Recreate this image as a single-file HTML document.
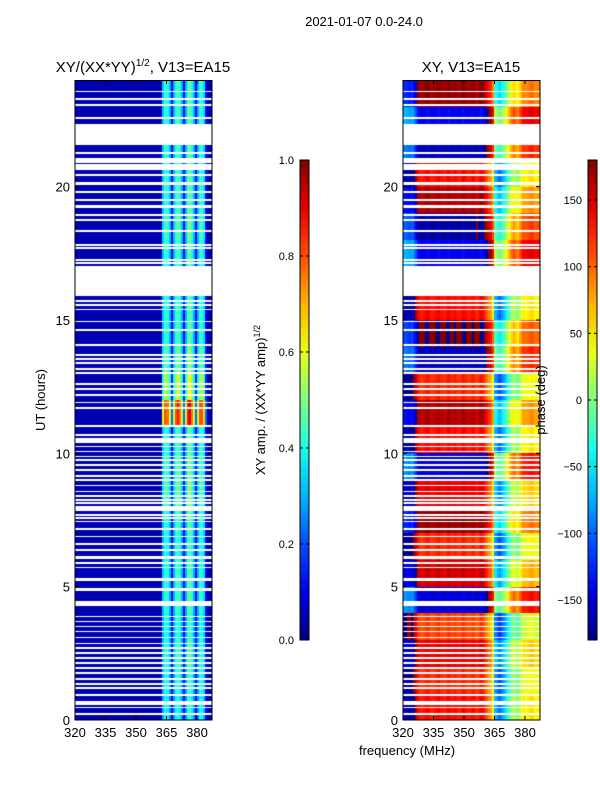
<!DOCTYPE html>
<html><head><meta charset="utf-8"><style>
body{margin:0;background:#fff;}
#wrap{position:relative;width:600px;height:800px;font-family:"Liberation Sans",sans-serif;}
canvas{position:absolute;}
svg{position:absolute;left:0;top:0;}
text{font-family:"Liberation Sans",sans-serif;fill:#000;}
</style></head><body>
<div id="wrap">
<canvas id="c1" width="137" height="640" style="left:75px;top:80px"></canvas>
<canvas id="c2" width="137" height="640" style="left:403px;top:80px"></canvas>
<svg id="s" width="600" height="800"></svg>
</div>
<script>
// ---- data ----
const freqStart = 320;
const ampColProfile = [0.05,0.05,0.05,0.05,0.05,0.05,0.05,0.05,0.05,0.05,0.05,0.05,0.05,0.05,0.05,0.05,0.05,0.05,0.05,0.05,0.05,0.05,0.05,0.05,0.05,0.05,0.05,0.05,0.05,0.05,0.05,0.05,0.05,0.05,0.05,0.05,0.05,0.05,0.05,0.05,0.05,0.05,0.05,
 0.32,0.42,0.40,0.30,0.12,0.30,0.42,0.45,0.40,0.30,0.12,0.30,0.45,0.48,0.40,0.30,0.12,0.30,0.42,0.42,0.35,0.12,0.06,0.05,0.05];
const ampHourGain = [0.9,0.95,1.0,0.95,1.0,1.0,0.95,1.0,1.1,1.05,1.0,1.9,1.3,1.1,1.0,1.0,1.0,1.0,1.05,1.0,1.0,1.0,1.0,1.0];
const phaseColProfile = [-150,-150,-155,-160,-150,-165,175,150,140,135,140,145,150,140,135,140,145,150,140,140,135,145,150,140,140,145,140,135,140,150,145,140,135,140,145,140,130,140,150,145,
 130,115,100,90,60,-60,-80,-90,-70,-60,-40,-20,0,20,30,20,10,30,50,60,55,60,65,70,60,55,60];
const phaseHourOffset = [-10,-20,0,-30,70,10,-20,30,0,70,-10,20,-20,60,40,-10,0,80,50,20,-10,60,80,30];
const flagged = [[0.19,0.26],[0.45,0.49],[0.56,0.69],[0.92,0.96],[1.18,1.22],[1.33,1.37],[1.5,1.58],[1.74,1.78],[1.93,1.97],[2.12,2.16],[2.3,2.34],[2.49,2.53],[2.68,2.72],[2.85,2.89],[3.07,3.11],[3.29,3.33],[3.48,3.52],[3.67,3.71],[3.85,3.89],[4.29,4.46],[4.84,4.96],[5.21,5.32],[5.69,5.73],[5.87,5.91],[6.04,6.16],[6.35,6.39],[6.58,6.62],[6.85,6.89],[7.14,7.18],[7.42,7.46],[7.55,7.59],[7.67,7.71],[7.85,8.02],[8.12,8.16],[8.23,8.27],[8.38,8.42],[8.55,8.59],[8.77,8.81],[8.98,9.02],[9.13,9.17],[9.35,9.39],[9.54,9.58],[9.73,9.77],[9.85,9.89],[10.04,10.08],[10.23,10.27],[10.39,10.57],[10.67,10.71],[11.0,11.04],[11.66,11.73],[11.88,11.92],[12.17,12.21],[12.39,12.43],[12.58,12.62],[12.99,13.03],[13.14,13.18],[13.37,13.41],[13.52,13.56],[13.67,13.71],[14.04,14.08],[14.6,14.64],[14.92,14.96],[15.36,15.4],[15.54,15.58],[15.69,15.73],[15.91,17.03],[17.12,17.16],[17.23,17.27],[17.68,17.72],[17.79,17.83],[18.32,18.36],[18.73,18.77],[18.92,18.96],[19.2,19.3],[19.46,19.53],[19.78,19.82],[20.06,20.17],[20.42,20.46],[20.62,20.85],[20.9,21.08],[21.24,21.28],[21.58,22.33],[22.55,22.59],[23.04,23.08],[23.27,23.31],[23.54,23.58]];
const yTicks=[0,5,10,15,20], xTicks=[320,335,350,365,380];
const ampTicks=[0,0.2,0.4,0.6,0.8,1.0], phaseTicks=[-150,-100,-50,0,50,100,150];

// ---- scales ----
const Y0=720, PXH=26.667;
const yS=h=>Y0-h*PXH;
const xL=f=>75+(f-320)*2.033, xR=f=>403+(f-320)*2.033;
function jet(v){v=Math.max(0,Math.min(1,v));
 const r=Math.min(4*v-1.5,-4*v+4.5),g=Math.min(4*v-0.5,-4*v+3.5),b=Math.min(4*v+0.5,-4*v+2.5);
 const c=x=>Math.round(255*Math.max(0,Math.min(1,x)));return `rgb(${c(r)},${c(g)},${c(b)})`;}
function flagCover(h0,h1){
 let cov=0;flagged.forEach(([a,b])=>{cov+=Math.max(0,Math.min(b,h1)-Math.max(a,h0));});return cov/(h1-h0);}
function wrap(p){while(p>180)p-=360;while(p<-180)p+=360;return p;}

function drawHeat(id,valFn,xs,ox){
 const ctx=document.getElementById(id).getContext('2d');
 for(let py=0;py<640;py++){
  const h1=(640-py)/PXH,h0=(639-py)/PXH;
  if(flagCover(h0,h1)>0.4)continue;
  const hr=Math.min(23,Math.floor((h0+h1)/2));
  for(let c=0;c<ampColProfile.length;c++){
   const f=freqStart+c;
   ctx.fillStyle=jet(valFn(c,hr));
   const x0=Math.round(xs(f)-ox),x1=Math.round(xs(f+1)-ox);
   ctx.fillRect(x0,py,x1-x0,1);
  }
 }
}
drawHeat('c1',(c,hr)=>ampColProfile[c]*(ampColProfile[c]>0.1?ampHourGain[hr]:1),xL,75);
drawHeat('c2',(c,hr)=>(wrap(phaseColProfile[c]+phaseHourOffset[hr])+180)/360,xR,403);

// ---- axes ----
const s=document.getElementById('s');const NS='http://www.w3.org/2000/svg';
function el(t,a,txt){const e=document.createElementNS(NS,t);for(const k in a)e.setAttribute(k,a[k]);if(txt!==undefined)e.textContent=txt;s.appendChild(e);return e;}
let e;
e=el('text',{x:364,y:26,'text-anchor':'middle','font-size':13},'2021-01-07 0.0-24.0');


function panel(x0,xs,title,name){
 let r=el('rect',{x:x0,y:80.5,width:137,height:639.5,fill:'none',stroke:'#000','stroke-width':1});
 
 let t=el('text',{x:x0+68,y:72,'text-anchor':'middle','font-size':15},'');
 t.innerHTML=title;
 yTicks.forEach(v=>{const y=yS(v);
  el('line',{x1:x0,x2:x0+4,y1:y,y2:y,stroke:'#000'});el('line',{x1:x0+137,x2:x0+133,y1:y,y2:y,stroke:'#000'});
  const l=el('text',{x:x0-5,y:y+5,'text-anchor':'end','font-size':13},String(v));
  });
 xTicks.forEach(v=>{const x=xs(v);
  el('line',{x1:x,x2:x,y1:720,y2:716,stroke:'#000'});el('line',{x1:x,x2:x,y1:80,y2:84,stroke:'#000'});
  const l=el('text',{x:x,y:737,'text-anchor':'middle','font-size':13},String(v));
  });
}
panel(75,xL,'XY/(XX*YY)<tspan dy="-6" font-size="10">1/2</tspan><tspan dy="6">, V13=EA15</tspan>','amp-panel');
panel(403,xR,'XY, V13=EA15','phase-panel');
e=el('text',{x:45,y:400,'text-anchor':'middle','font-size':13,transform:'rotate(-90 45 400)'},'UT (hours)');

e=el('text',{x:407,y:755,'text-anchor':'middle','font-size':13},'frequency (MHz)');


function cbar(x,id,ticks,lo,hi,fmt,label,lx,name){
 const g=el('linearGradient',{id:id,x1:0,y1:1,x2:0,y2:0});
 for(let i=0;i<=10;i++){const st=document.createElementNS(NS,'stop');st.setAttribute('offset',i/10);st.setAttribute('stop-color',jet(i/10));g.appendChild(st);}
 let r=el('rect',{x:x,y:160,width:9,height:480,fill:`url(#${id})`,stroke:'#000','stroke-width':1});
 
 ticks.forEach(v=>{const y=640-(v-lo)/(hi-lo)*480;
  el('line',{x1:x,x2:x+3,y1:y,y2:y,stroke:'#000'});el('line',{x1:x+9,x2:x+6,y1:y,y2:y,stroke:'#000'});
  const l=el('text',{x:x-6,y:y+4,'text-anchor':'end','font-size':11},fmt(v));
  });
 const t=el('text',{x:lx,y:400,'text-anchor':'middle','font-size':13,transform:`rotate(-90 ${lx} 400)`},'');
 t.innerHTML=label;
}
cbar(300,'g1',ampTicks,0,1,v=>v.toFixed(1),'XY amp. / (XX*YY amp)<tspan dy="-5" font-size="9">1/2</tspan>',265,'amp-colorbar');
cbar(588,'g2',phaseTicks,-180,180,v=>v<0?'\u2212'+(-v):String(v),'phase (deg)',545,'phase-colorbar');
</script>
</body></html>
